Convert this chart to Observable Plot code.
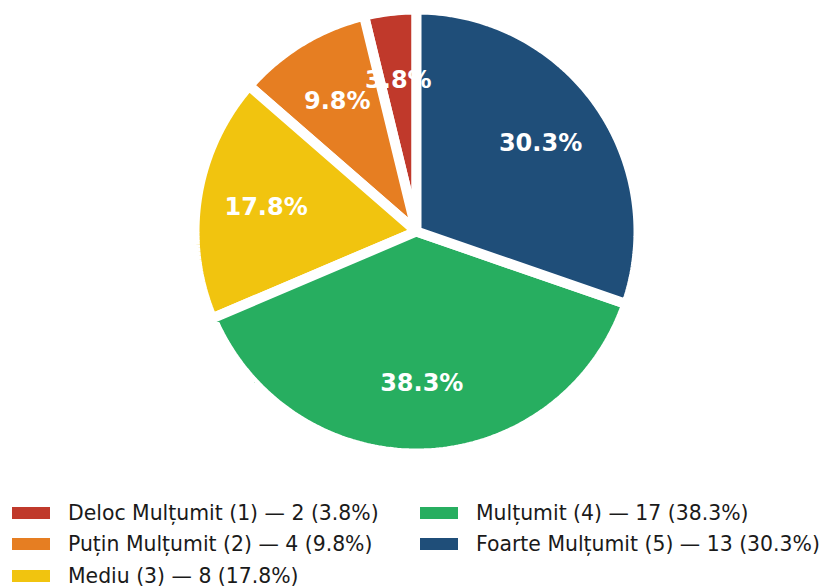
<!DOCTYPE html>
<html>
<head>
<meta charset="utf-8">
<script src="https://cdn.jsdelivr.net/npm/d3@7"></script>
<script src="https://cdn.jsdelivr.net/npm/@observablehq/plot@0.6"></script>
<style>
  html, body { margin: 0; padding: 0; background: #fff; }
  body { width: 820px; height: 586px; overflow: hidden; font-family: "DejaVu Sans", sans-serif; }
  #legend {
    display: grid;
    grid-auto-flow: column;
    grid-template-rows: repeat(3, 31.5px);
    grid-template-columns: 408px auto;
    padding-left: 12px;
  }
  .item { display: flex; align-items: center; font-size: 20.4px; color: #1a1a1a; white-space: nowrap; }
  .sw { width: 38px; height: 12px; margin-right: 18px; flex: none; }
</style>
</head>
<body>
<div id="chart"></div>
<div id="legend"></div>
<script>
const categories = ["Deloc Mulțumit (1)", "Puțin Mulțumit (2)", "Mediu (3)", "Mulțumit (4)", "Foarte Mulțumit (5)"];
const counts = [2, 4, 8, 17, 13];
const percents = [3.8, 9.8, 17.8, 38.3, 30.3];
const colors = ["#c0392b", "#e67e22", "#f1c40f", "#27ae60", "#1f4e79"];

const W = 820, H = 497;
const R = 222;          // wedge radius in px
const cx = 416, cy = 231; // pie centre in px

// Slices: start at 12 o'clock, going counter-clockwise (matplotlib startangle=90)
let acc = 0;
const total = d3.sum(percents);
const slices = categories.map((c, i) => {
  const a0 = acc / total * 2 * Math.PI;
  acc += percents[i];
  const a1 = acc / total * 2 * Math.PI;
  return {cat: c, a0, a1, pct: percents[i]};
});

// polygon vertices in unit-radius coordinates (angle measured counter-clockwise from top)
const pts = [];
for (const s of slices) {
  pts.push({cat: s.cat, x: 0, y: 0});
  const n = Math.max(2, Math.ceil((s.a1 - s.a0) / (Math.PI / 180)));
  for (let k = 0; k <= n; k++) {
    const a = s.a0 + (s.a1 - s.a0) * k / n;
    pts.push({cat: s.cat, x: -Math.sin(a), y: Math.cos(a)});
  }
  pts.push({cat: s.cat, x: 0, y: 0});
}
const labels = slices.map(s => {
  const a = (s.a0 + s.a1) / 2, d = 0.686;
  return {x: -Math.sin(a) * d, y: Math.cos(a) * d, text: s.pct.toFixed(1) + "%"};
});

const chart = Plot.plot({
  width: W, height: H,
  margin: 0,
  x: {domain: [-cx / R, (W - cx) / R], range: [0, W], axis: null},
  y: {domain: [-(H - cy) / R, cy / R], range: [H, 0], axis: null},
  color: {domain: categories, range: colors},
  style: {background: "white"},
  marks: [
    Plot.line(pts, {x: "x", y: "y", z: "cat", fill: "cat", stroke: "white", strokeWidth: 10, strokeLinejoin: "miter", curve: "linear"}),
    Plot.text(labels, {x: "x", y: "y", text: "text", fill: "white", fontSize: 24, fontWeight: "bold", fontFamily: "DejaVu Sans"})
  ]
});
document.getElementById("chart").appendChild(chart);

const legend = document.getElementById("legend");
categories.forEach((c, i) => {
  const it = document.createElement("div");
  it.className = "item";
  const sw = document.createElement("span");
  sw.className = "sw";
  sw.style.background = colors[i];
  it.appendChild(sw);
  it.appendChild(document.createTextNode(`${c} — ${counts[i]} (${percents[i].toFixed(1)}%)`));
  legend.appendChild(it);
});
</script>
</body>
</html>
